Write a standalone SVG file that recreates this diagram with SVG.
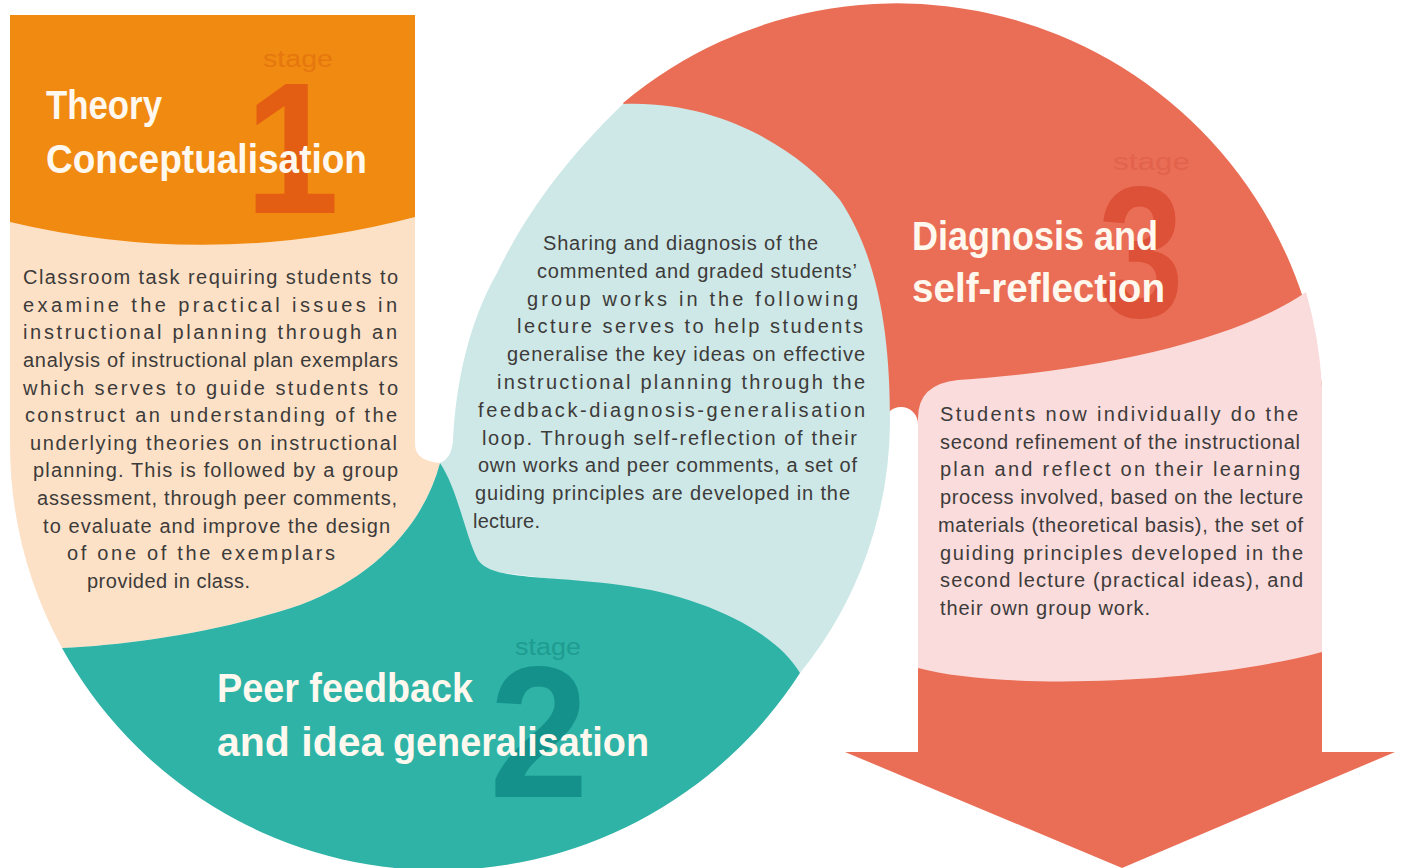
<svg xmlns="http://www.w3.org/2000/svg" width="1405" height="868" viewBox="0 0 1405 868">
  <style>
    .body { font-family: "Liberation Sans", Arial, sans-serif; font-size: 20px; fill: #3d3b3a; }
    .title { font-family: "Liberation Sans Narrow", "Liberation Sans", Arial, sans-serif; font-weight: bold; font-size: 41px; fill: #fff8ee; }
    .stage { font-family: "Liberation Sans Narrow", "Liberation Sans", Arial, sans-serif; font-size: 23px; }
    .num { font-family: "Liberation Sans", Arial, sans-serif; font-weight: bold; font-size: 188px; text-anchor: middle; }
  </style>
  <rect width="1405" height="868" fill="#ffffff"/>

  <!-- Stage 3: coral band sweeping over the top into the downward shaft -->
  <g id="stage3">
    <path d="M623,103 A427 427 0 0 1 1322,387 L1322,760 L918,760 L918,424 A17 17 0 0 0 884,424 L860,440 Z" fill="#ea6e56"/>
    <path d="M918,668 V418 Q918,384 958,380 C1080,372 1230,345 1306,292 A427 427 0 0 1 1322,387 V652 C1200,685 1000,690 918,668 Z" fill="#fadcdc"/>
    <text class="stage" x="1113" y="170" fill="#e2624c" textLength="77" lengthAdjust="spacingAndGlyphs">stage</text>
    <text class="num" x="1141" y="317" fill="#dc5137" transform="translate(1141 0) scale(0.82 1) translate(-1141 0)">3</text>
    <text class="title" x="912" y="250" textLength="246" lengthAdjust="spacingAndGlyphs">Diagnosis and</text>
    <text class="title" x="912" y="302" textLength="253" lengthAdjust="spacingAndGlyphs">self-reflection</text>
    <g class="body" lengthAdjust="spacing">
      <text x="940" y="420.7" textLength="358">Students now individually do the</text>
      <text x="940" y="448.5" textLength="360">second refinement of the instructional</text>
      <text x="940" y="476.2" textLength="360">plan and reflect on their learning</text>
      <text x="940" y="504" textLength="363">process involved, based on the lecture</text>
      <text x="938" y="531.7" textLength="365">materials (theoretical basis), the set of</text>
      <text x="940" y="559.5" textLength="363">guiding principles developed in the</text>
      <text x="940" y="587.3" textLength="363">second lecture (practical ideas), and</text>
      <text x="940" y="615" textLength="210">their own group work.</text>
    </g>
  </g>

  <!-- Stage 1: orange header over the peach column -->
  <g id="stage1">
    <path d="M10,200 H415 V444 Q415,461 440,463 C425,520 380,575 300,605 C220,632 130,645 62,648 A430 430 0 0 1 10,438 Z" fill="#fce1c7"/>
    <path d="M10,15 H415 V217 Q212,270 10,222 Z" fill="#f08a10"/>
    <text class="stage" x="263" y="67" fill="#e6770f" textLength="70" lengthAdjust="spacingAndGlyphs">stage</text>
    <text class="num" x="292" y="213" fill="#e35d12" transform="translate(292 0) scale(0.9 1) translate(-292 0)">1</text>
    <text class="title" x="46" y="119" textLength="116" lengthAdjust="spacingAndGlyphs">Theory</text>
    <text class="title" x="46" y="173" textLength="321" lengthAdjust="spacingAndGlyphs">Conceptualisation</text>
    <g class="body" lengthAdjust="spacing">
      <text x="23" y="284" textLength="375">Classroom task requiring students to</text>
      <text x="23" y="311.6" textLength="374">examine the practical issues in</text>
      <text x="23" y="339.3" textLength="374">instructional planning through an</text>
      <text x="23" y="366.9" textLength="375">analysis of instructional plan exemplars</text>
      <text x="23" y="394.5" textLength="375">which serves to guide students to</text>
      <text x="25" y="422" textLength="372">construct an understanding of the</text>
      <text x="30" y="449.8" textLength="367">underlying theories on instructional</text>
      <text x="33" y="477.3" textLength="365">planning. This is followed by a group</text>
      <text x="37" y="505" textLength="360">assessment, through peer comments,</text>
      <text x="43" y="532.5" textLength="347">to evaluate and improve the design</text>
      <text x="67" y="560" textLength="268">of one of the exemplars</text>
      <text x="87" y="588" textLength="163">provided in class.</text>
    </g>
  </g>

  <!-- Stage 2: pale blue lens with the teal base -->
  <g id="stage2">
    <path d="M623,104 C720,100 800,150 840,200 C880,260 890,340 890,420 A401 401 0 0 1 800,673 L640,590 L480,570 L440,463 Q452,458 453,440 C456,380 470,320 497,273 C525,215 565,160 623,104 Z" fill="#cde8e7"/>
    <path d="M440,463 C425,520 380,575 300,605 C220,632 130,645 62,648 A430 430 0 0 0 800,673 C775,630 700,595 620,585 C540,575 492,580 478,560 C465,535 458,490 440,463 Z" fill="#2eb3a6"/>
    <text class="stage" x="515" y="655" fill="#1f9c90" textLength="66" lengthAdjust="spacingAndGlyphs">stage</text>
    <text class="num" x="539" y="797" fill="#13918a" transform="translate(539 0) scale(0.95 1) translate(-539 0)">2</text>
    <text class="title" x="217" y="702" textLength="256" lengthAdjust="spacingAndGlyphs">Peer feedback</text>
    <text class="title" x="217" y="756">and idea <tspan x="393" textLength="256" lengthAdjust="spacingAndGlyphs">generalisation</tspan></text>
    <g class="body" lengthAdjust="spacing">
      <text x="543" y="250" textLength="275">Sharing and diagnosis of the</text>
      <text x="537" y="277.8" textLength="320">commented and graded students’</text>
      <text x="527" y="305.6" textLength="331">group works in the following</text>
      <text x="517" y="333.4" textLength="346">lecture serves to help students</text>
      <text x="507" y="361.2" textLength="358">generalise the key ideas on effective</text>
      <text x="497" y="389" textLength="368">instructional planning through the</text>
      <text x="478" y="416.8" textLength="387">feedback-diagnosis-generalisation</text>
      <text x="482" y="444.6" textLength="375">loop. Through self-reflection of their</text>
      <text x="478" y="472.4" textLength="379">own works and peer comments, a set of</text>
      <text x="475" y="500.2" textLength="375">guiding principles are developed in the</text>
      <text x="473" y="528" textLength="67">lecture.</text>
    </g>
  </g>

  <!-- Outgoing flow: the arrowhead closing the cycle -->
  <g id="connectors">
    <path d="M845,752 L1395,752 L1122,868 Z" fill="#ea6e56"/>
  </g>
</svg>
